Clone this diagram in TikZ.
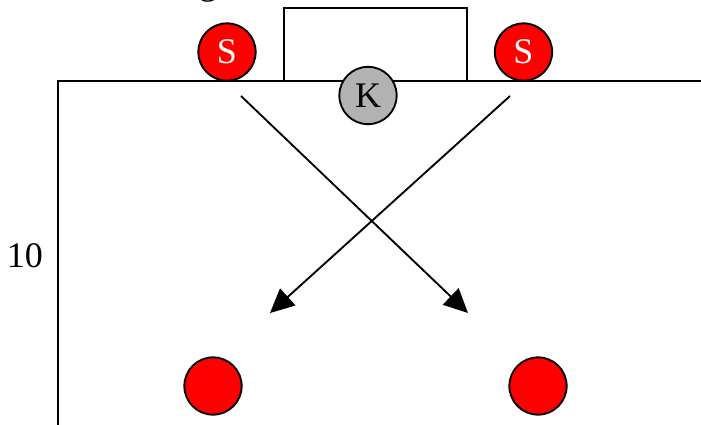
\documentclass[tikz,border=0pt]{standalone}
\usepackage{fontspec}
\setmainfont{Liberation Serif}
\usetikzlibrary{arrows.meta}
\tikzset{
  px/.style={x=0.75pt,y=-0.75pt},
  ln/.style={draw=black,line width=1.4pt},
  big text/.style={font=\fontsize{27}{27}\selectfont},
  player/.style={circle,draw=black,line width=1.4pt,minimum size=43pt,inner sep=0pt,big text},
  red player/.style={player,fill=red,text=white},
  keeper/.style={player,fill=black!30,text=black},
  run/.style={draw=black,line width=1.4pt,-{Triangle[length=18pt,width=17pt]}},
}
\begin{document}
\begin{tikzpicture}[px]
\useasboundingbox (0,0) rectangle (701,425);
\begin{scope}
\clip (0,0) rectangle (701,425);
\coordinate (fbl) at (58,426);
\coordinate (ftl) at (58,81);
\coordinate (ftr) at (702,81);
\coordinate (gl) at (284,81);
\coordinate (gtl) at (284,8);
\coordinate (gtr) at (467,8);
\coordinate (gr) at (467,81);
\node[big text,inner sep=0pt,anchor=base] (g) at (208,-5.5) {g};
\draw[ln] (fbl) -- (ftl) -- (ftr);
\draw[ln] (gl) -- (gtl) -- (gtr) -- (gr);
\node[red player] (s1) at (227,52) {S};
\node[red player] (s2) at (523.5,52) {S};
\node[keeper] (k) at (368,95.5) {K};
\node[player,fill=red] (a) at (213,386) {};
\node[player,fill=red] (b) at (538,386) {};
\coordinate (r1s) at (241,96);
\coordinate (r1e) at (468,313);
\coordinate (r2s) at (510,96);
\coordinate (r2e) at (270,313);
\draw[run] (r1s) -- (r1e);
\draw[run] (r2s) -- (r2e);
\node[big text,inner sep=0pt] (ten) at (25,255.5) {10};
\end{scope}
\end{tikzpicture}
\end{document}
